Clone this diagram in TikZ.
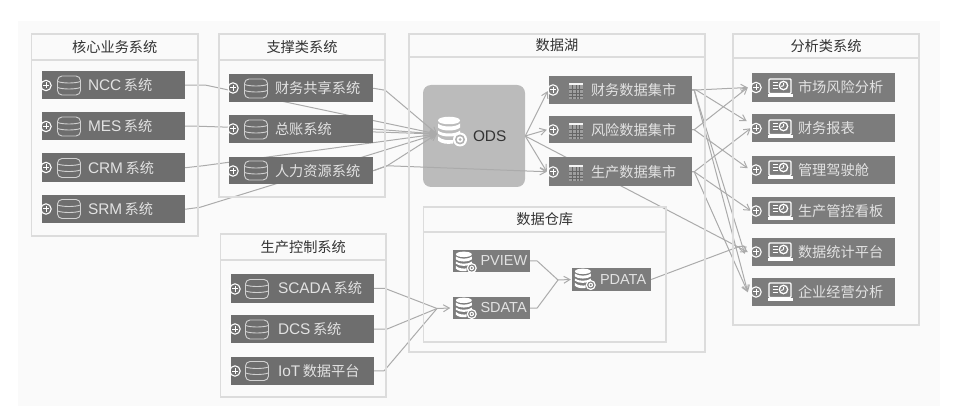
\documentclass[tikz,border=0pt]{standalone}
\usepackage{fontspec}
\setmainfont{Liberation Sans}
\newfontfamily\cjk{Noto Sans CJK SC}
\usetikzlibrary{arrows.meta}
\pgfdeclarelayer{back}
\pgfdeclarelayer{edges}
\pgfsetlayers{back,edges,main}
\definecolor{pageback}{HTML}{FAFAFA}
\definecolor{barA}{HTML}{6E6E6E}
\definecolor{barB}{HTML}{7C7C7C}
\definecolor{bartext}{HTML}{E2E2E2}
\definecolor{rim}{HTML}{DCDCDC}
\definecolor{wire}{HTML}{ABABAB}
\definecolor{ink}{HTML}{333333}
\definecolor{odsfill}{HTML}{BBBBBB}
\newcommand{\zh}[1]{{\cjk\fontsize{14.2}{17}\selectfont #1}}
\newcommand{\lat}[1]{{\fontsize{15.4}{17}\selectfont #1}\hspace{2.5pt}}
\tikzset{
  x=1pt,y=-1pt,
  frameline/.style={draw=rim,line width=1.2pt,inner sep=0pt},
  bartile/.style={inner sep=0pt,align=left,text=bartext},
  wiring/.style={draw=wire,line width=1pt,line join=round},
  tip/.style={wiring,-{Straight Barb[length=6pt,width=7pt,line width=1pt]}},
  pics/plus/.style={code={
    \draw[white,line width=1.1pt] (0,0) circle (5.2);
    \draw[white,line width=1pt] (-3,0) -- (3,0) (0,-3) -- (0,3);}},
  pics/drum/.style={code={
    \draw[#1,line width=0.9pt,rounded corners=4.5pt] (-11.5,-9) rectangle (11.5,10);
    \draw[#1,line width=0.9pt] (-11.5,-3.5) .. controls (-6,-1.5) and (6,-1.5) .. (11.5,-3.5)
      (-11.5,2.5) .. controls (-6,4.5) and (6,4.5) .. (11.5,2.5);}},
  pics/sheet/.style={code={
    \fill[#1] (-7,-8) rectangle (7,8);
    \fill[white!92!barB] (-7,-8) rectangle (7,-5.5);
    \draw[barB!82!black,line width=0.3pt] (-3.5,-5.5) -- (-3.5,8) (0,-5.5) -- (0,8) (3.5,-5.5) -- (3.5,8)
      (-7,-1.5) -- (7,-1.5) (-7,2) -- (7,2) (-7,5) -- (7,5);}},
  pics/screen/.style={code={
    \draw[white,line width=1.4pt,rounded corners=1pt] (-11,-9) rectangle (11,5.5);
    \fill[white] (-12.5,6.5) rectangle (12.5,9.3);
    \draw[white,line width=1.1pt] (-7.5,-5.5) -- (-2.5,-5.5) (-7.5,-2.5) -- (-2.5,-2.5) (-7.5,0.7) -- (-2.5,0.7);
    \draw[white,line width=1.3pt] (3.5,-2.5) circle (4.2);
    \draw[white,line width=1pt] (3.5,-2.5) -- (3.5,-5) (3.5,-2.5) -- (1.3,-1.5);}},
  pics/stack/.style={code={
    \fill[white] (-14,-12) .. controls (-14,-7) and (8,-7) .. (8,-12) .. controls (8,-17) and (-14,-17) .. (-14,-12);
    \fill[white] (-14,-9) .. controls (-10,-5) and (4,-5) .. (8,-9) -- (8,-5) .. controls (4,-1) and (-10,-1) .. (-14,-5) -- cycle;
    \fill[white] (-14,-2) .. controls (-10,2) and (4,2) .. (8,-2) -- (8,1) .. controls (4,5) and (-10,5) .. (-14,1) -- cycle;
    \fill[white] (-14,4) .. controls (-10,8) and (-3,8) .. (1,7.5) -- (1,11) .. controls (-5,12) and (-11,11) .. (-14,8) -- cycle;
    \fill[white] (8,7) circle (7);
    \fill[#1] (8,7) circle (5);
    \fill[white] (8,7) circle (3.2);
    \fill[#1] (8,7) circle (1.5);}},
}
% #1 name #2 x1 #3 y1 #4 x2 #5 y2 #6 fill #7 text offset #8 text
\newcommand{\tile}[8]{%
  \pgfmathsetmacro{\tw}{#4-#2}\pgfmathsetmacro{\th}{#5-#3}%
  \pgfmathsetmacro{\tx}{(#2+#4)/2}\pgfmathsetmacro{\ty}{(#3+#5)/2}%
  \node[bartile,fill=#6,text width=\tw pt,minimum height=\th pt] (#1) at (\tx,\ty) {\hspace*{#7pt}#8};%
}
% #1 name #2 x1 #3 y1 #4 x2 #5 ymid #6 y2 #7 title
\newcommand{\panelbox}[7]{%
  \pgfmathsetmacro{\tw}{#4-#2}\pgfmathsetmacro{\hh}{#5-#3}\pgfmathsetmacro{\bh}{#6-#5}%
  \pgfmathsetmacro{\tx}{(#2+#4)/2}\pgfmathsetmacro{\ty}{(#3+#5)/2}\pgfmathsetmacro{\tz}{(#5+#6)/2}%
  \node[frameline,minimum width=\tw pt,minimum height=\hh pt,text=ink] (#1head) at (\tx,\ty) {\zh{#7}};%
  \node[frameline,minimum width=\tw pt,minimum height=\bh pt] (#1body) at (\tx,\tz) {};%
}
\begin{document}
\begin{tikzpicture}
\useasboundingbox (0,0) rectangle (959,406);
\begin{pgfonlayer}{back}
  \fill[white] (0,0) rectangle (959,406);
  \fill[pageback] (18,21) rectangle (940,406);
  \node[fill=odsfill,rounded corners=8pt,inner sep=0pt,minimum width=102pt,minimum height=102pt,align=left,text width=102pt,text=ink] (ods) at (474,136) {\hspace*{50pt}\lat{ODS}};
\end{pgfonlayer}

\panelbox{core}{31.5}{34}{198}{60}{236}{核心业务系统}
\panelbox{supp}{219}{34}{385}{60}{197}{支撑类系统}
\panelbox{lake}{409}{34}{705}{57}{352}{数据湖}
\panelbox{ware}{423.5}{207}{666}{232}{342}{数据仓库}
\panelbox{anal}{733}{34}{919}{58}{325}{分析类系统}
\panelbox{prod}{220.5}{234}{386}{260}{397}{生产控制系统}

\tile{c1}{42}{71}{185}{99.5}{barA}{46}{\lat{NCC}\zh{系统}}
\tile{c2}{42}{112}{185}{140.5}{barA}{46}{\lat{MES}\zh{系统}}
\tile{c3}{42}{153.5}{185}{182}{barA}{46}{\lat{CRM}\zh{系统}}
\tile{c4}{42}{195}{185}{223.5}{barA}{46}{\lat{SRM}\zh{系统}}
\tile{s1}{229}{74}{373}{102.5}{barA}{46}{\zh{财务共享系统}}
\tile{s2}{229}{115}{373}{143}{barA}{46}{\zh{总账系统}}
\tile{s3}{229}{157}{373}{184.5}{barA}{46}{\zh{人力资源系统}}
\tile{p1}{231}{274}{374}{303}{barA}{47}{\lat{SCADA}\zh{系统}}
\tile{p2}{231}{315}{374}{343}{barA}{47}{\lat{DCS}\zh{系统}}
\tile{p3}{231}{357}{374}{384.5}{barA}{47}{\lat{IoT}\zh{数据平台}}
\tile{m1}{549}{76}{692}{104}{barB}{42}{\zh{财务数据集市}}
\tile{m2}{549}{116}{692}{143.5}{barB}{42}{\zh{风险数据集市}}
\tile{m3}{549}{157.5}{692}{186}{barB}{42}{\zh{生产数据集市}}
\tile{a1}{752}{73}{895}{102}{barB}{46}{\zh{市场风险分析}}
\tile{a2}{752}{114.5}{895}{142}{barB}{46}{\zh{财务报表}}
\tile{a3}{752}{156}{895}{184.5}{barB}{46}{\zh{管理驾驶舱}}
\tile{a4}{752}{197}{895}{224.5}{barB}{46}{\zh{生产管控看板}}
\tile{a5}{752}{238}{895}{266}{barB}{46}{\zh{数据统计平台}}
\tile{a6}{752}{278.5}{895}{306}{barB}{46}{\zh{企业经营分析}}
\tile{w1}{452.5}{250}{530}{272}{barB}{28}{{\fontsize{14.5}{16}\selectfont PVIEW}}
\tile{w2}{452.5}{297}{530}{319}{barB}{28}{{\fontsize{14.5}{16}\selectfont SDATA}}
\tile{w3}{572}{268}{651}{291}{barB}{28}{{\fontsize{14.5}{16}\selectfont PDATA}}

\foreach \n/\cx/\cy in {c1/46/85.5,c2/46/126.5,c3/46/167.5,c4/46/209,s1/233/88,s2/233/129,s3/233/171,p1/235/289,p2/235/329,p3/235/371,m1/553/90,m2/553/130,m3/553/172,a1/756/87.5,a2/756/128.5,a3/756/170,a4/756/211,a5/756/252,a6/756/292}
  \pic at (\cx,\cy) {plus};
\foreach \cx/\cy in {69/85,69/126,69/167.5,69/208.5,256/88,256/129,256/170,257/288.5,257/329,257/370.5}
  \pic at (\cx,\cy) {drum=black!18};
\foreach \cy in {91,131,173}
  \pic at (576,\cy) {sheet=black!38};
\foreach \cy in {88,129,170,211,252,292}
  \pic at (780,\cy) {screen};
\pic at (452,132.5) {stack=black!30};
\pic[scale=0.72] at (466,263) {stack=barB};
\pic[scale=0.72] at (466,309) {stack=barB};
\pic[scale=0.72] at (585,280) {stack=barB};

\coordinate (odsin) at (437,134);
\coordinate (sdin) at (437,308.5);
\coordinate (pdin) at (558,280);
\begin{pgfonlayer}{edges}
  \draw[tip] (c1.east) -- ++(21,0) -- (odsin);
  \draw[tip] (c2.east) -- ++(14,0) -- (odsin);
  \draw[tip] (c3.east) -- ++(18,-2) -- (odsin);
  \draw[tip] (c4.east) -- ++(15,-2) -- (odsin);
  \draw[tip] (s1.east) -- ++(12,2) -- (odsin);
  \draw[tip] (s2.east) -- (odsin);
  \draw[tip] (s3.east) -- ++(14,-5) -- (odsin);
  \draw[tip] (s3.east) -- ++(14,-5) -- ([xshift=-2pt]m3.west);
  \draw[tip] (ods.east) -- ([xshift=-1pt,yshift=-1pt]m1.west);
  \draw[tip] (ods.east) -- ([xshift=-2pt]m2.west);
  \draw[tip] (ods.east) -- ([xshift=-2pt]m3.west);
  \draw[tip] (ods.east) -- ([xshift=-4pt]a5.west);
  \draw[tip] (m1.east) -- ++(4,0) -- ([xshift=-4pt]a1.west);
  \draw[tip] (m1.east) -- ++(4,0) -- ([xshift=-5pt,yshift=7pt]a2.west);
  \draw[tip] (m1.east) -- ++(2,0) -- ([xshift=-7pt,yshift=-2pt]a5.west);
  \draw[tip] (m1.east) -- ++(2,0) -- ([xshift=-4pt]a6.west);
  \draw[tip] (m2.east) -- ++(2,0) -- ([xshift=-4pt]a1.west);
  \draw[tip] (m2.east) -- ++(2,0) -- ([xshift=-4pt,yshift=2pt]a3.west);
  \draw[tip] (m3.east) -- ++(2,0) -- ([xshift=-1pt]a2.west);
  \draw[tip] (m3.east) -- ++(2,0) -- ([xshift=-1pt]a4.west);
  \draw[tip] (m3.east) -- ++(2,0) -- ([xshift=-4pt]a6.west);
  \draw[wiring] (w3.east) -- ++(88,-33) coordinate (late) -- ++(6,0);
  \draw[wiring] (p1.east) -- ++(11,0) -- (sdin);
  \draw[wiring] (p2.east) -- ++(13,0) -- (sdin);
  \draw[wiring] (p3.east) -- ++(10,0) -- (sdin);
  \draw[tip] (sdin) -- ([xshift=-2pt]w2.west);
  \draw[wiring] (w1.east) -- ++(7,0) -- (pdin);
  \draw[wiring] (w2.east) -- ++(7,0) -- (pdin);
  \draw[tip] (pdin) -- ([xshift=-1pt]w3.west);
\end{pgfonlayer}
\end{tikzpicture}
\end{document}
